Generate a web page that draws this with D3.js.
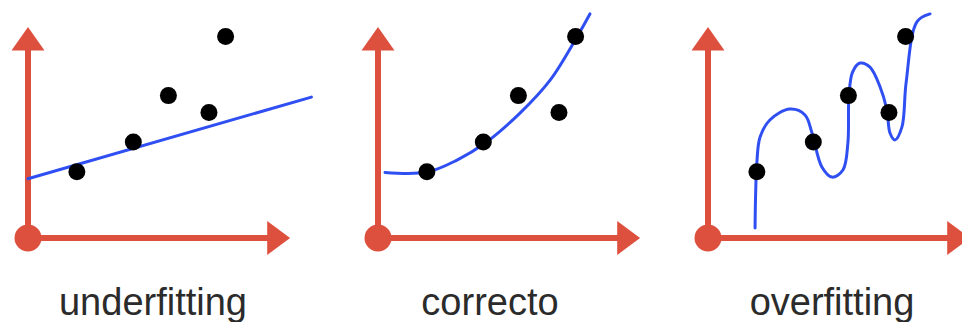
<!DOCTYPE html>
<html>
<head>
<meta charset="utf-8">
<script src="https://cdn.jsdelivr.net/npm/d3@7/dist/d3.min.js"></script>
<style>
  html, body { margin: 0; padding: 0; background: #fff; }
  svg { display: block; }
</style>
</head>
<body>
<svg id="chart" width="962" height="322"></svg>
<script>
// Panel titles
const panelTitles = ["underfitting", "correcto", "overfitting"];

// Observed samples (same five points in each panel)
const sampleX = [1.88, 4.05, 5.40, 6.96, 7.60];
const sampleY = [3.15, 4.57, 6.78, 5.98, 9.60];

// Fitted models
const underfitX = [0.0, 10.9];
const underfitY = [2.82, 6.71];

const correctX = [0.27, 1.88, 3.04, 4.12, 5.46, 6.62, 7.65, 8.15];
const correctY = [3.12, 3.14, 3.71, 4.52, 5.95, 7.52, 9.57, 10.67];

const overfitX = [1.81, 1.83, 1.88, 2.00, 2.38, 3.15, 3.73, 4.00, 4.38, 4.77, 5.19, 5.38, 5.42, 5.56, 5.85, 6.23, 6.62, 6.88, 7.00, 7.19, 7.46, 7.62, 8.04, 8.54];
const overfitY = [0.48, 2.00, 3.60, 4.80, 5.62, 6.14, 5.86, 5.00, 3.38, 2.90, 3.24, 4.52, 6.71, 7.90, 8.33, 8.14, 7.19, 6.10, 5.00, 4.67, 5.29, 7.40, 10.30, 10.67];

const fits = [
  { xs: underfitX, ys: underfitY, curve: d3.curveLinear },
  { xs: correctX, ys: correctY, curve: d3.curveCatmullRom.alpha(0.5) },
  { xs: overfitX, ys: overfitY, curve: d3.curveCatmullRom.alpha(0.5) }
];

// Layout
const originsX = [28, 378, 708];
const originY = 238;
const plotW = 260, plotH = 210;
const titleX = [153, 490, 832];
const titleY = 315;

const RED = "#de503e";
const BLUE = "#2f4ff2";

const svg = d3.select("#chart");

panelTitles.forEach((title, i) => {
  const ox = originsX[i];
  const x = d3.scaleLinear().domain([0, 10]).range([ox, ox + plotW]);
  const y = d3.scaleLinear().domain([0, 10]).range([originY, originY - plotH]);
  const g = svg.append("g");

  // Axes with arrowheads
  const axisG = g.append("g").attr("fill", RED).attr("stroke", RED);
  axisG.append("line")
    .attr("x1", x(0)).attr("y1", y(0))
    .attr("x2", x(0)).attr("y2", y(9.0))
    .attr("stroke-width", 6);
  axisG.append("line")
    .attr("x1", x(0)).attr("y1", y(0))
    .attr("x2", x(9.3)).attr("y2", y(0))
    .attr("stroke-width", 6);
  axisG.append("path")
    .attr("stroke", "none")
    .attr("d", `M${x(0) - 16.5},${y(8.93)} L${x(0) + 16.5},${y(8.93)} L${x(0)},${y(10.05)} Z`);
  axisG.append("path")
    .attr("stroke", "none")
    .attr("d", `M${x(9.2)},${y(0) - 17} L${x(9.2)},${y(0) + 17} L${x(10.08)},${y(0)} Z`);
  axisG.append("circle")
    .attr("stroke", "none")
    .attr("cx", x(0)).attr("cy", y(0)).attr("r", 13.5);

  // Model curve
  const fit = fits[i];
  const pts = fit.xs.map((v, k) => [v, fit.ys[k]]);
  const line = d3.line().x(d => x(d[0])).y(d => y(d[1])).curve(fit.curve);
  g.append("path")
    .attr("d", line(pts))
    .attr("fill", "none")
    .attr("stroke", BLUE)
    .attr("stroke-width", 3)
    .attr("stroke-linecap", "round")
    .attr("stroke-linejoin", "round");

  // Samples
  g.selectAll("circle.pt")
    .data(sampleX.map((v, k) => [v, sampleY[k]]))
    .join("circle")
    .attr("class", "pt")
    .attr("cx", d => x(d[0]))
    .attr("cy", d => y(d[1]))
    .attr("r", 8.5)
    .attr("fill", "#000");

  // Title
  svg.append("text")
    .attr("x", titleX[i])
    .attr("y", titleY)
    .attr("text-anchor", "middle")
    .attr("font-family", "'Liberation Sans', Arial, sans-serif")
    .attr("font-size", 38)
    .attr("fill", "#2b2b2b")
    .text(title);
});
</script>
</body>
</html>
